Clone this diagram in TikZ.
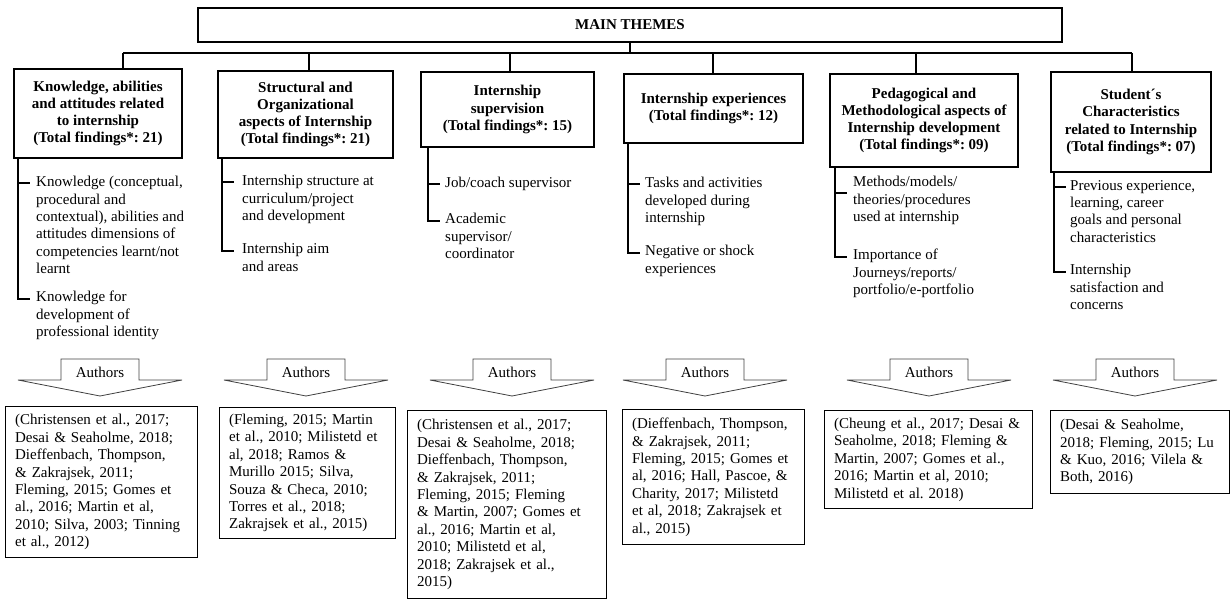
\documentclass[tikz,border=0pt]{standalone}
\usepackage{fontspec}
\setmainfont{Liberation Serif}
\usetikzlibrary{calc}
\newcommand{\authorsarrow}[2]{%
  \node[anchor=base] (#1) at (#2,377.5) {Authors};
  \draw[arr, shift={(#2,0)}] (-39,359) -- (39,359) -- (39,380) -- (82,380) -- (0,396) -- (-82,380) -- (-39,380) -- cycle;
}
\begin{document}
\frenchspacing
\begin{tikzpicture}[x=1pt,y=-1pt,
  every node/.style={font=\fontsize{15}{17.4}\selectfont\frenchspacing, inner sep=0pt},
  hbox/.style={draw, line width=1.5pt, align=center, font=\fontsize{15}{17.2}\selectfont\bfseries},
  item/.style={anchor=north west, align=left},
  abox/.style={draw, line width=1.3pt, anchor=north west, align=left, inner xsep=9.5pt, inner ysep=2.5pt},
  bus/.style={line width=2pt},
  brk/.style={line width=2pt},
  arr/.style={draw=black!75, line width=0.8pt, line join=miter}
]
\useasboundingbox (0,0) rectangle (1231,599);

% main box
\node[hbox, line width=2pt, minimum width=864, minimum height=34] (main) at (630,25) {MAIN THEMES};

% bus coordinates
\coordinate (bus1) at (123,53);
\coordinate (bus2) at (309,53);
\coordinate (bus3) at (510,53);
\coordinate (bus4) at (713,53);
\coordinate (bus5) at (916,53);
\coordinate (bus6) at (1132,53);

% header boxes
\node[hbox, minimum width=168, minimum height=89] (h1) at (98,113.5) {Knowledge, abilities\\and attitudes related\\to internship\\(Total findings*: 21)};
\node[hbox, minimum width=175, minimum height=87] (h2) at (305.5,114.5) {Structural and\\Organizational\\aspects of Internship\\(Total findings*: 21)};
\node[hbox, minimum width=173, minimum height=75] (h3) at (507.5,109.5) {Internship\\supervision\\(Total findings*: 15)};
\node[hbox, minimum width=179, minimum height=69] (h4) at (713.5,108.5) {Internship experiences\\(Total findings*: 12)};
\node[hbox, minimum width=188, minimum height=93] (h5) at (924,120.5) {Pedagogical and\\Methodological aspects of\\Internship development\\(Total findings*: 09)};
\node[hbox, minimum width=160, minimum height=100] (h6) at (1131,122) {Student´s\\Characteristics\\related to Internship\\(Total findings*: 07)};

% connectors
\draw[bus] (main.south) -- (main.south |- bus1);
\draw[bus] (bus1) -- (bus6);
\foreach \i in {1,...,6} {\draw[bus] (bus\i) -- (bus\i |- h\i.north);}

% items
\node[item] (i11) at (36,176) {Knowledge (conceptual,\\procedural and\\contextual), abilities and\\attitudes dimensions of\\competencies learnt/not\\learnt};
\node[item] (i12) at (36,291) {Knowledge for\\development of\\professional identity};
\node[item] (i21) at (242,175) {Internship structure at\\curriculum/project\\and development};
\node[item] (i22) at (242,243) {Internship aim\\and areas};
\node[item] (i31) at (445,177) {Job/coach supervisor};
\node[item] (i32) at (445,213) {Academic\\supervisor/\\coordinator};
\node[item] (i41) at (645,177) {Tasks and activities\\developed during\\internship};
\node[item] (i42) at (645,245) {Negative or shock\\experiences};
\node[item] (i51) at (853,176) {Methods/models/\\theories/procedures\\used at internship};
\node[item] (i52) at (853,249) {Importance of\\Journeys/reports/\\portfolio/e-portfolio};
\node[item] (i61) at (1070,180) {Previous experience,\\learning, career\\goals and personal\\characteristics};
\node[item] (i62) at (1070,264) {Internship\\satisfaction and\\concerns};

% brackets
\coordinate (x1) at (18,0);
\coordinate (x2) at (222,0);
\coordinate (x3) at (428,0);
\coordinate (x4) at (628,0);
\coordinate (x5) at (835,0);
\coordinate (x6) at (1054,0);
\foreach \i/\d in {1/6.5,2/6.5,3/6.5,4/6.5,5/17,6/6.5} {
  \draw[brk] (x\i |- h\i.south) -- ($(x\i |- i\i2.north)+(0,8)$) -- ++(12,0);
  \draw[brk] ($(x\i |- i\i1.north)+(0,\d)$) -- ++(12,0);
}

% arrows
\authorsarrow{a1}{100}
\authorsarrow{a2}{306}
\authorsarrow{a3}{512}
\authorsarrow{a4}{705}
\authorsarrow{a5}{929}
\authorsarrow{a6}{1135}

% author boxes
\node[abox, text width=173, minimum height=151] (p1) at (5,406) {(Christensen et al., 2017;\\Desai \& Seaholme, 2018;\\Dieffenbach, Thompson,\\\& Zakrajsek, 2011;\\Fleming, 2015; Gomes et\\al., 2016; Martin et al,\\2010; Silva, 2003; Tinning\\et al., 2012)};
\node[abox, text width=157, minimum height=131] (p2) at (219,407) {(Fleming, 2015; Martin\\et al., 2010; Milistetd et\\al, 2018; Ramos \&\\Murillo 2015; Silva,\\Souza \& Checa, 2010;\\Torres et al., 2018;\\Zakrajsek et al., 2015)};
\node[abox, text width=180, minimum height=188] (p3) at (407,410) {(Christensen et al., 2017;\\Desai \& Seaholme, 2018;\\Dieffenbach, Thompson,\\\& Zakrajsek, 2011;\\Fleming, 2015; Fleming\\\& Martin, 2007; Gomes et\\al., 2016; Martin et al,\\2010; Milistetd et al,\\2018; Zakrajsek et al.,\\2015)};
\node[abox, text width=163, minimum height=135] (p4) at (622,409) {(Dieffenbach, Thompson,\\\& Zakrajsek, 2011;\\Fleming, 2015; Gomes et\\al, 2016; Hall, Pascoe, \&\\Charity, 2017; Milistetd\\et al, 2018; Zakrajsek et\\al., 2015)};
\node[abox, text width=189, minimum height=98] (p5) at (824,410) {(Cheung et al., 2017; Desai \&\\Seaholme, 2018; Fleming \&\\Martin, 2007; Gomes et al.,\\2016; Martin et al, 2010;\\Milistetd et al. 2018)};
\node[abox, text width=160, minimum height=83] (p6) at (1050,410) {(Desai \& Seaholme,\\2018; Fleming, 2015; Lu\\\& Kuo, 2016; Vilela \&\\Both, 2016)};
\end{tikzpicture}
\end{document}
